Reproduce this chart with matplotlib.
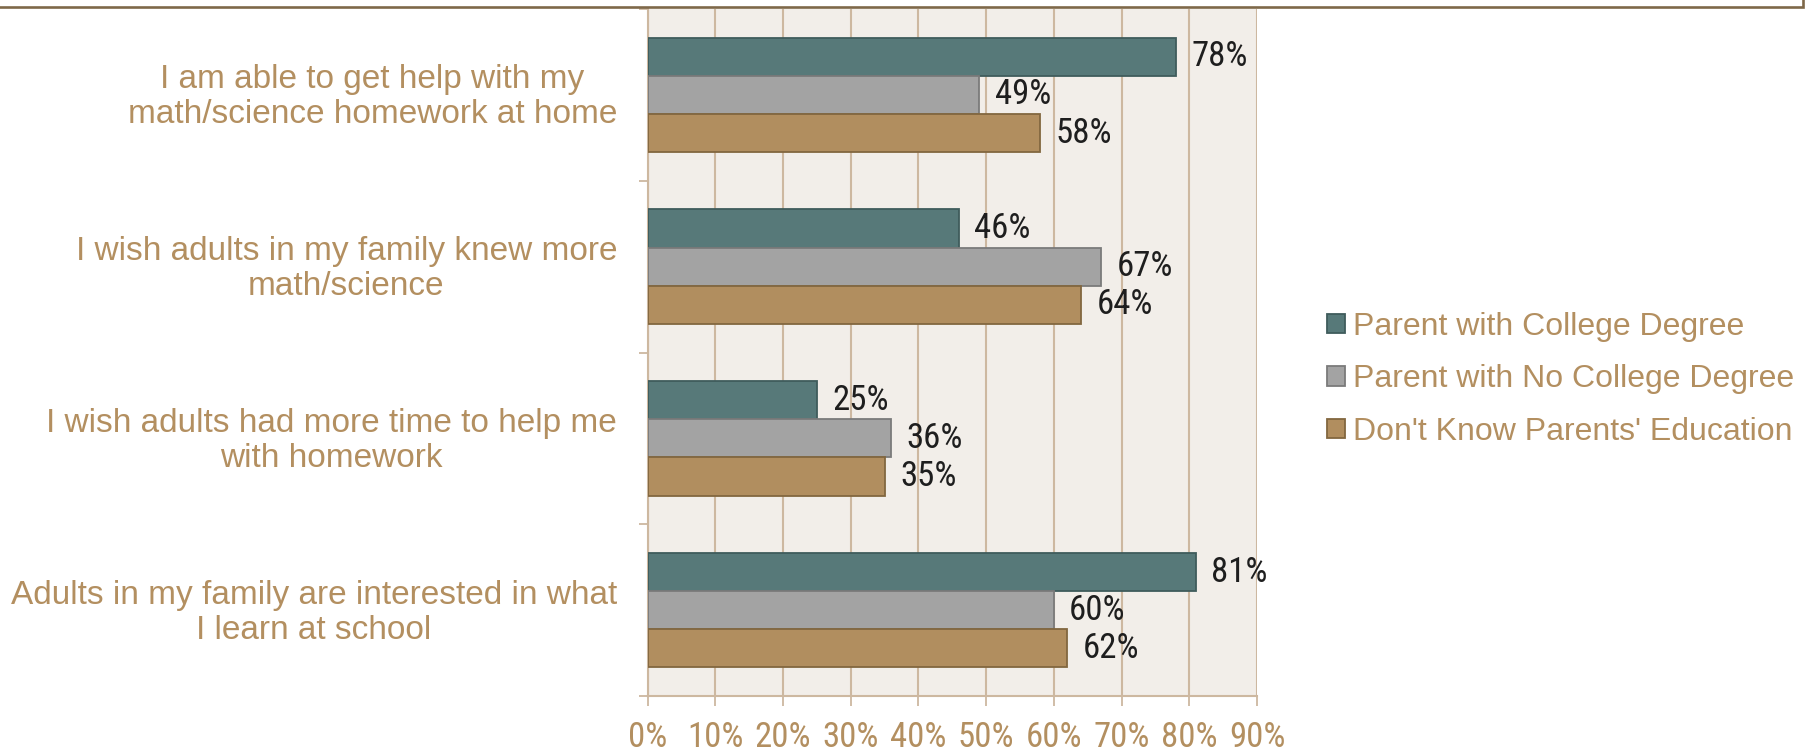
import matplotlib
matplotlib.use("Agg")
import matplotlib.pyplot as plt
import matplotlib.font_manager as fm
import matplotlib.transforms as mtrans
from matplotlib.lines import Line2D
from matplotlib.patches import Patch
import numpy as np

categories = [
    "I am able to get help with my\nmath/science homework at home",
    "I wish adults in my family knew more\nmath/science",
    "I wish adults had more time to help me\nwith homework",
    "Adults in my family are interested in what\nI learn at school",
]
series_names = ["Parent with College Degree", "Parent with No College Degree",
                "Don't Know Parents' Education"]
college = [78, 46, 25, 81]
no_college = [49, 67, 36, 60]
dont_know = [58, 64, 35, 62]
xticks = [0, 10, 20, 30, 40, 50, 60, 70, 80, 90]
xtick_labels = [f"{v}%" for v in xticks]

fills = ["#577979", "#a3a3a3", "#b18e5f"]
edges = ["#3f5c5c", "#7b7b7b", "#82673f"]
txt = "#b38f60"
grid_c = "#cdb8a0"
bg = "#f2eee9"

# pick a narrow upright regular face for the numbers (reference uses a condensed font)
entries = fm.fontManager.ttflist
def regular(f):
    return f.style == "normal" and f.weight in (400, "normal", "regular", "book")
def find(pred):
    for f in entries:
        if regular(f) and pred(f):
            return f
    return None
prefs = [
    lambda f: f.name == "Liberation Sans Narrow",
    lambda f: f.name == "Roboto Condensed",
    lambda f: f.name == "Open Sans Condensed",
    lambda f: f.name == "Roboto" and str(f.stretch) == "condensed",
    lambda f: f.name.startswith("Noto Sans") and str(f.stretch) == "condensed" and "Mono" not in f.name,
    lambda f: f.name == "DejaVu Sans" and str(f.stretch) == "condensed",
    lambda f: "condensed" in f.name.lower() and "mono" not in f.name.lower(),
]
num_fp = None
for p in prefs:
    f = find(p)
    if f is not None:
        num_fp = fm.FontProperties(fname=f.fname, size=25)
        break
if num_fp is None:
    num_fp = fm.FontProperties(family="Liberation Sans", size=20)

TEXT_FONT = ["Liberation Sans", "DejaVu Sans"]

fig = plt.figure(figsize=(18.10, 7.51), dpi=100)
ax = fig.add_axes([0.3578, 0.0732, 0.6945 - 0.3578, 0.988 - 0.0732])
ax.set_facecolor(bg)

y = np.arange(len(categories))
h = 0.222
for k, (vals, fc, ec) in enumerate(zip([college, no_college, dont_know], fills, edges)):
    pos = y + (k - 1) * h
    ax.barh(pos, vals, height=h, color=fc, edgecolor=ec, linewidth=1.3, zorder=3)
    for p, v in zip(pos, vals):
        ax.annotate(f"{v}%", (v, p), xytext=(11, 0), textcoords="offset points",
                    ha="left", va="center", color="#1e1e1e",
                    fontproperties=num_fp, zorder=4)

ax.set_xlim(0, 90)
ax.set_ylim(3.5, -0.5)
ax.set_xticks(xticks)
ax.set_xticklabels(xtick_labels, fontproperties=num_fp, color=txt)
ax.xaxis.grid(True, color=grid_c, linewidth=1.5, zorder=0)
ax.set_axisbelow(True)

ax.set_yticks(y)
ax.set_yticklabels(categories, fontsize=24, color=txt, family=TEXT_FONT)
ax.set_yticks(np.arange(-0.5, 4.0, 1.0), minor=True)
ax.tick_params(axis="y", which="major", length=0, pad=22)
ax.tick_params(axis="y", which="minor", length=6.5, width=1.3, color=grid_c, direction="out")
ax.tick_params(axis="x", length=7, width=1.3, color=grid_c, direction="out", pad=11)

shift = mtrans.ScaledTranslation(0, 2.2 / 72, fig.dpi_scale_trans)
for lab in ax.get_yticklabels():
    lab.set_multialignment("center")
    lab.set_linespacing(1.17)
    lab.set_transform(lab.get_transform() + shift)

for s in ["top", "right"]:
    ax.spines[s].set_visible(False)
for s in ["left", "bottom"]:
    ax.spines[s].set_color(grid_c)
    ax.spines[s].set_linewidth(1.5)

handles = [Patch(facecolor=fc, edgecolor=ec, linewidth=1.3) for fc, ec in zip(fills, edges)]
leg = fig.legend(handles, series_names, loc="center left", bbox_to_anchor=(0.7331, 0.495),
                 frameon=False, prop={"family": TEXT_FONT, "size": 23},
                 handlelength=0.56, handleheight=0.56, handletextpad=0.25,
                 labelspacing=0.7, borderpad=0, borderaxespad=0)
for t in leg.get_texts():
    t.set_color(txt)

# top frame line
W, H = 1810, 751
fig.add_artist(Line2D([0, 1803 / W, 1803 / W], [1 - 6.5 / H, 1 - 6.5 / H, 1.0],
                      transform=fig.transFigure, color="#7e6849", linewidth=1.9,
                      solid_joinstyle="miter"))

fig.savefig("out.png", dpi=100)
